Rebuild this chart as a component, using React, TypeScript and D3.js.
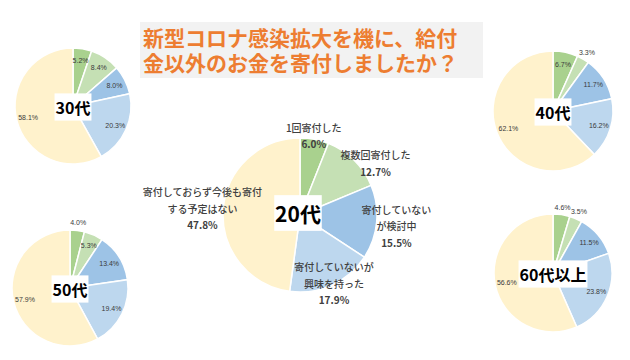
import React from "react";
import * as d3 from "d3";

const categories = [
  "1回寄付した",
  "複数回寄付した",
  "寄付していないが検討中",
  "寄付していないが興味を持った",
  "寄付しておらず今後も寄付する予定はない",
];
const categoryLines = [
  ["1回寄付した"],
  ["複数回寄付した"],
  ["寄付していない", "が検討中"],
  ["寄付していないが", "興味を持った"],
  ["寄付しておらず今後も寄付", "する予定はない"],
];
const titleLines = ["新型コロナ感染拡大を機に、給付", "金以外のお金を寄付しましたか？"];

const ages = ["20代", "30代", "40代", "50代", "60代以上"];
const values20 = [6.0, 12.7, 15.5, 17.9, 47.8];
const values30 = [5.2, 8.4, 8.0, 20.3, 58.1];
const values40 = [6.7, 3.3, 11.7, 16.2, 62.1];
const values50 = [4.0, 5.3, 13.4, 19.4, 57.9];
const values60 = [4.6, 3.5, 11.5, 23.8, 56.6];

const colors = ["#a9d18e", "#c5e0b4", "#9dc3e6", "#bdd7ee", "#fff2cc"];

// layout (not data)
const mainLayout = { cx: 300, cy: 215, r: 77 };
const mainLabelRadius = [1.05, 1.19, 1.26, 0.99, 1.27];
const mainLabelShiftDeg = [-1, 11, 1, -2, 0];
const smallLayouts = [
  { cx: 73, cy: 106, r: 58 },
  { cx: 553, cy: 111, r: 60 },
  { cx: 70, cy: 288, r: 58 },
  { cx: 553, cy: 273, r: 59 },
];

const pieGen = d3.pie<number>().sort(null).value((d) => d);
const fmt = (v: number) => `${v.toFixed(1)}%`;
const JP = "'Noto Sans CJK JP', 'Noto Sans', sans-serif";

function polar(cx: number, cy: number, ang: number, dist: number) {
  return [cx + Math.sin(ang) * dist, cy - Math.cos(ang) * dist];
}

function AgeBox({ x, y, label, size }: { x: number; y: number; label: string; size: number }) {
  let w = 0;
  for (const ch of label) w += /[0-9]/.test(ch) ? size * 0.56 : size;
  const h = size * 1.7;
  return (
    <g>
      <rect x={x - w / 2 - 1.5} y={y - h / 2} width={w + 3} height={h} fill="#ffffff" />
      <text
        x={x}
        y={y}
        textAnchor="middle"
        dominantBaseline="central"
        fontFamily={JP}
        fontWeight={700}
        fontSize={size}
        fill="#000"
      >
        {label}
      </text>
    </g>
  );
}

function SmallPie({ values, layout, label }: { values: number[]; layout: { cx: number; cy: number; r: number }; label: string }) {
  const arcs = pieGen(values);
  const arc = d3.arc<d3.PieArcDatum<number>>().innerRadius(0).outerRadius(layout.r);
  return (
    <g>
      <g transform={`translate(${layout.cx},${layout.cy})`}>
        {arcs.map((a, i) => (
          <path key={i} d={arc(a) || ""} fill={colors[i]} stroke="#ffffff" strokeWidth={1.5} />
        ))}
      </g>
      {arcs.map((a, i) => {
        const mid = (a.startAngle + a.endAngle) / 2;
        const dist = a.data < 5 ? layout.r * 1.13 : layout.r * 0.8;
        const [x, y] = polar(layout.cx, layout.cy, mid, dist);
        return (
          <text
            key={i}
            x={x}
            y={y}
            textAnchor="middle"
            dominantBaseline="central"
            fontFamily="'Liberation Sans', Arial, sans-serif"
            fontSize={7}
            fill="#3a3a3a"
          >
            {fmt(a.data)}
          </text>
        );
      })}
      <AgeBox x={layout.cx} y={layout.cy + 1} label={label} size={16} />
    </g>
  );
}

function MainPie() {
  const { cx, cy, r } = mainLayout;
  const arcs = pieGen(values20);
  const arc = d3.arc<d3.PieArcDatum<number>>().innerRadius(0).outerRadius(r);
  const lh = 16.5;
  return (
    <g>
      <g transform={`translate(${cx},${cy})`}>
        {arcs.map((a, i) => (
          <path key={i} d={arc(a) || ""} fill={colors[i]} stroke="#ffffff" strokeWidth={1.5} />
        ))}
      </g>
      {arcs.map((a, i) => {
        const mid = (a.startAngle + a.endAngle) / 2 + (mainLabelShiftDeg[i] * Math.PI) / 180;
        const [x, y] = polar(cx, cy, mid, r * mainLabelRadius[i]);
        const lines = [...categoryLines[i], fmt(a.data)];
        const y0 = y - ((lines.length - 1) * lh) / 2;
        return (
          <g key={i}>
            {lines.map((t, j) => (
              <text
                key={j}
                x={x}
                y={y0 + j * lh}
                textAnchor="middle"
                dominantBaseline="central"
                fontFamily={JP}
                fontWeight={j === lines.length - 1 ? 700 : 500}
                fontSize={10}
                fill="#404040"
              >
                {t}
              </text>
            ))}
          </g>
        );
      })}
      <AgeBox x={cx - 2} y={cy - 2} label={ages[0]} size={21} />
    </g>
  );
}

export default function App() {
  const smallValues = [values30, values40, values50, values60];
  return (
    <svg
      width={630}
      height={360}
      style={{ position: "absolute", left: 0, top: 0, background: "#ffffff" }}
      aria-label={categories.join(" / ")}
    >
      <rect x={0} y={0} width={630} height={360} fill="#ffffff" />
      <rect x={140} y={22} width={343} height={56} fill="#f2f2f2" />
      {titleLines.map((t, i) => (
        <text
          key={i}
          x={143}
          y={37 + i * 25}
          dominantBaseline="central"
          fontFamily={JP}
          fontWeight={700}
          fontSize={21}
          fill="#ed7d31"
        >
          {t}
        </text>
      ))}
      <MainPie />
      {smallValues.map((v, i) => (
        <SmallPie key={i} values={v} layout={smallLayouts[i]} label={ages[i + 1]} />
      ))}
    </svg>
  );
}
